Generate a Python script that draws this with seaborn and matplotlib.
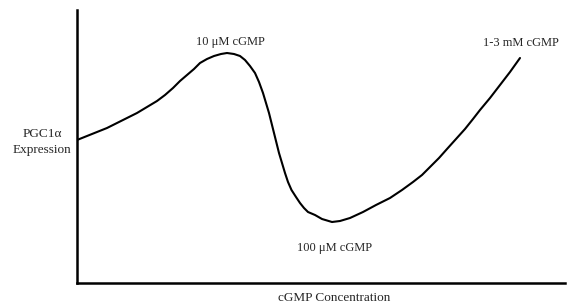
# plot.py
# Schematic of PGC1a expression against cGMP concentration (biphasic curve).

import matplotlib
matplotlib.use('Agg')
import matplotlib.pyplot as plt
import pandas as pd
import seaborn as sns

# curve (arbitrary units)
concentration = [0, 10, 20, 30, 40, 50, 60, 70, 80, 88, 96, 103, 110, 117,
                 123, 130, 137, 144, 150, 157, 163, 168, 173, 178, 182, 186,
                 189, 192, 194.5, 197, 199.5, 202, 205, 208, 211, 214.5, 219,
                 223, 227, 231, 238, 245, 255, 263, 273, 286, 299, 313, 325,
                 336, 345, 353, 362, 370, 379, 388, 396, 403, 413, 423, 433,
                 443]
expression = [143, 147, 151, 155, 160, 165, 170, 176, 182, 188, 195, 202,
              208, 214, 220, 224, 227, 229, 230, 229, 227, 223, 217, 210,
              201, 190, 180, 170, 160, 150, 140, 130, 120, 110, 101, 93, 86,
              80, 75, 71, 68, 64, 61, 62, 65, 71, 78, 85, 93, 101, 108, 116,
              125, 134, 144, 154, 164, 173, 185, 198, 211, 225]

# annotations: label, x, y
labels = ['10 \u03bcM cGMP', '100 \u03bcM cGMP', '1-3 mM cGMP']
label_x = [153, 258, 444]
label_y = [241, 35, 240]

df = pd.DataFrame({'Concentration': concentration, 'Expression': expression})

sns.set_style('white')
plt.rcParams['font.family'] = ['Liberation Serif', 'DejaVu Serif']

fig = plt.figure(figsize=(5.67, 3.06), dpi=100)
ax = fig.add_axes([77 / 567, 23 / 306, 488 / 567, 273 / 306])

sns.lineplot(data=df, x='Concentration', y='Expression', sort=False,
             color='black', linewidth=1.5, ax=ax)

for text, x, y in zip(labels, label_x, label_y):
    ax.text(x, y, text, ha='center', va='center', fontsize=9)

ax.set_xlim(0, 488)
ax.set_ylim(0, 273)
ax.set_xticks([])
ax.set_yticks([])
ax.set_xlabel('')
ax.set_ylabel('')
sns.despine(ax=ax)
for side in ['left', 'bottom']:
    ax.spines[side].set_linewidth(1.8)
    ax.spines[side].set_color('black')

fig.text(42 / 567, 1 - 142 / 306, 'PGC1\u03b1\nExpression', ha='center',
         va='center', fontsize=9.5, linespacing=1.5)
fig.text(334 / 567, 1 - 298 / 306, 'cGMP Concentration', ha='center',
         va='center', fontsize=9.5)

fig.savefig('out.png', dpi=100)
